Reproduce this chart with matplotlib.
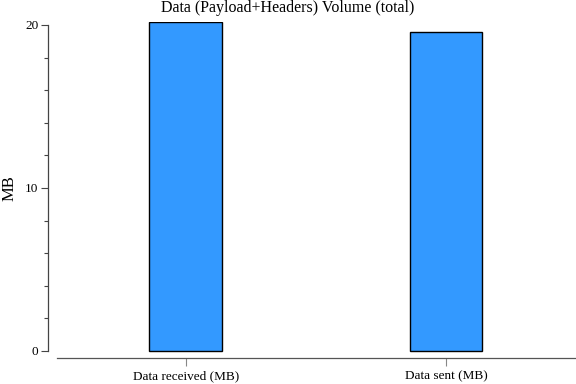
import matplotlib
matplotlib.use("Agg")
import matplotlib.pyplot as plt
from matplotlib.ticker import MultipleLocator

categories = ["Data received (MB)", "Data sent (MB)"]
values = [20.18, 19.55]
title = "Data (Payload+Headers) Volume (total)"
ylabel = "MB"

plt.rcParams['font.family'] = ['Liberation Serif', 'DejaVu Serif']

fig = plt.figure(figsize=(5.76, 3.84), dpi=100)
ax = fig.add_axes([48/576, (384-358)/384, (576-48)/576, (358-22)/384])

x = list(range(len(categories)))
ax.bar(x, values, width=0.28, color="#3399ff", edgecolor="black", linewidth=1.0)

ax.set_xlim(-0.53, 1.5)
ax.set_ylim(-0.43, 20.18)
ax.set_xticks(x)
ax.set_xticklabels(categories, fontsize=9.5)
ax.yaxis.set_major_locator(MultipleLocator(10))
ax.yaxis.set_minor_locator(MultipleLocator(2))
ax.tick_params(axis='y', which='major', length=5, width=0.8, color="#444444", labelsize=9.5, pad=2)
ax.tick_params(axis='y', which='minor', length=3, width=0.8, color="#444444")
ax.tick_params(axis='x', which='major', length=6, width=0.8, color="#888888", labelsize=9.5, pad=3)

for s in ["top", "right"]:
    ax.spines[s].set_visible(False)
ax.spines["left"].set_bounds(0, 20)
ax.spines["left"].set_color("#444444")
ax.spines["left"].set_linewidth(0.9)
ax.spines["bottom"].set_bounds(-0.495, 1.5)
ax.spines["bottom"].set_color("#555555")
ax.spines["bottom"].set_linewidth(0.9)

fig.text(10/576, 1 - 188/384, ylabel, rotation=90, ha="center", va="center", fontsize=12)
fig.text(0.5, 1 - 8/384, title, ha="center", va="center", fontsize=11.5)

fig.savefig("out.png", dpi=100)
